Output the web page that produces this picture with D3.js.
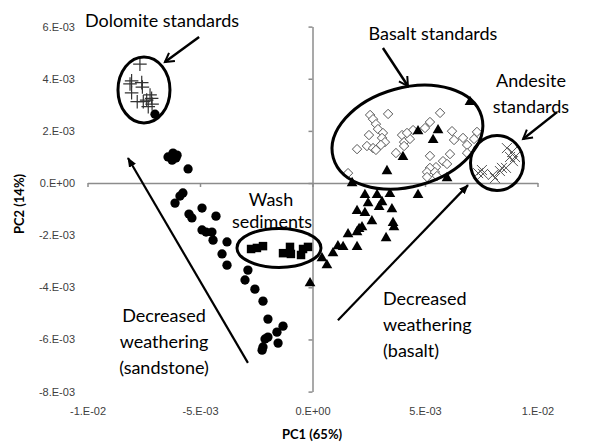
<!DOCTYPE html>
<html>
<head>
<meta charset="utf-8">
<script src="https://cdn.jsdelivr.net/npm/d3@7"></script>
<style>
  body { margin: 0; background: #fff; }
  svg { font-family: Lato, "Open Sans", sans-serif; }
  .tick text { fill: #404040; font-size: 11px; }
  .axis path, .axis line { stroke: #8c8c8c; stroke-width: 1.5; }
  .note { font-size: 18px; fill: #000; }
</style>
</head>
<body>
<svg id="chart" width="599" height="444"></svg>
<script>
// PCA scores, all values in units of 1e-3
var dolomite = [[-7.67,4.56],[-8.04,3.92],[-8.11,3.80],[-7.59,3.85],[-7.56,3.68],[-8.04,3.46],
  [-7.79,3.12],[-7.52,3.12],[-7.37,3.18],[-7.22,3.38],[-7.15,3.25],[-7.30,2.93],[-7.13,3.03]];

var sandstone = [[-7.0,2.64],[-6.42,1.00],[-6.20,1.15],[-6.02,1.07],[-6.24,0.88],[-6.07,0.96],[-5.53,0.54],
  [-5.76,-0.38],[-5.89,-0.50],[-6.11,-0.77],[-5.49,-1.19],[-5.36,-1.34],[-4.91,-0.96],[-4.29,-1.27],
  [-4.91,-1.80],[-4.73,-1.88],[-4.47,-1.88],[-4.42,-2.19],[-3.80,-2.26],[-4.02,-2.72],[-3.80,-3.15],
  [-2.87,-3.34],[-3.00,-3.72],[-2.56,-4.07],[-2.20,-4.53],[-1.98,-5.22],[-1.31,-5.49],[-1.58,-5.72],
  [-1.98,-5.91],[-2.11,-5.98],[-1.53,-6.14],[-2.20,-6.29],[-2.24,-6.41]];

var wash = [[-2.73,-2.53],[-2.47,-2.49],[-2.20,-2.42],[-1.31,-2.69],[-1.00,-2.45],[-0.96,-2.72],
  [-0.51,-2.76],[-0.42,-2.53],[-0.20,-2.45]];

var basaltTrend = [[3.31,0.46],[1.76,0.00],[2.33,-0.46],[2.87,-0.46],[3.44,-0.42],[4.69,-0.46],
  [2.47,-0.77],[3.09,-0.73],[2.96,-0.92],[3.53,-1.00],[1.98,-1.07],[2.33,-1.15],[2.64,-1.46],
  [3.58,-1.53],[3.62,-1.69],[2.20,-1.69],[2.07,-1.76],[1.98,-1.88],[1.58,-1.96],[3.27,-2.11],
  [1.13,-2.42],[1.36,-2.45],[1.98,-2.45],[0.91,-2.69],[0.42,-2.88],[0.64,-3.15],[-0.11,-3.84],
  [4.69,1.99],[5.58,2.03],[5.36,1.65],[4.02,1.00],[5.98,0.19],[7.00,3.11]];

var basaltStd = [[2.56,2.61],[2.69,2.45],[3.36,2.65],[5.67,2.69],[2.82,2.26],[2.91,2.07],[3.13,1.92],
  [2.51,1.84],[3.09,1.73],[3.22,1.57],[3.04,1.46],[2.42,1.42],[2.69,1.34],[2.82,1.27],[1.98,1.30],
  [3.98,1.84],[4.07,1.57],[4.33,1.69],[4.07,1.42],[4.47,2.03],[5.00,2.11],[5.22,2.34],[3.71,1.15],
  [5.22,1.04],[6.20,1.99],[6.29,1.65],[6.69,1.73],[6.87,1.46],[6.87,1.15],[7.31,1.96],[7.18,1.69],
  [6.11,1.11],[5.80,0.84],[5.98,0.73],[5.49,0.61],[5.22,0.58],[5.09,0.42],[5.44,0.42],[5.09,0.23],
  [5.53,0.27],[1.58,0.38],[4.20,1.92]];

var andesite = [[8.64,1.34],[8.87,1.19],[8.78,1.00],[9.00,1.00],[8.91,0.84],[8.42,0.58],[8.60,0.58],
  [8.33,0.46],[7.53,0.50],[7.58,0.35],[7.36,0.38],[8.02,0.31],[8.11,0.19]];

var xTicks = [-10, -5, 0, 5, 10];
var yTicks = [-8, -6, -4, -2, 0, 2, 4, 6];

var svg = d3.select('#chart');

var x = d3.scaleLinear().domain([-10, 10]).range([87.5, 537.5]);
var y = d3.scaleLinear().domain([-8, 6]).range([391.6, 26.6]);

// excel style labels like 5.E-03
function sci(v) {
  var val = v * 1e-3;
  if (val === 0) return '0.E+00';
  var e = Math.floor(Math.log10(Math.abs(val)) + 1e-9);
  var m = Math.round(val / Math.pow(10, e));
  var ae = Math.abs(e);
  return m + '.E' + (e < 0 ? '-' : '+') + (ae < 10 ? '0' : '') + ae;
}

// axis lines crossing at zero, labels kept at the low side
svg.append('g').attr('class', 'axis')
  .attr('transform', 'translate(0,' + y(0) + ')')
  .call(d3.axisBottom(x).tickValues(xTicks).tickSize(4).tickSizeOuter(0).tickFormat(''));
svg.append('g').attr('class', 'axis')
  .attr('transform', 'translate(' + x(0) + ',0)')
  .call(d3.axisLeft(y).tickValues(yTicks).tickSize(4).tickSizeOuter(0).tickFormat(''));

svg.append('g')
  .attr('transform', 'translate(0,404)')
  .call(d3.axisBottom(x).tickValues(xTicks).tickSize(0).tickFormat(sci))
  .call(g => g.select('.domain').remove());
svg.append('g')
  .attr('transform', 'translate(75,0)')
  .call(d3.axisLeft(y).tickValues(yTicks).tickSize(0).tickPadding(0).tickFormat(sci))
  .call(g => g.select('.domain').remove());

svg.append('text').attr('x', 312).attr('y', 439).attr('text-anchor', 'middle')
  .attr('font-size', 13).attr('font-weight', 'bold').text('PC1 (65%)');
svg.append('text').attr('transform', 'translate(24,204) rotate(-90)').attr('text-anchor', 'middle')
  .attr('font-size', 13).attr('font-weight', 'bold').text('PC2 (14%)');

// markers
function drawSeries(data, type, size, fill, stroke, sw) {
  svg.append('g').selectAll('path').data(data).join('path')
    .attr('transform', d => 'translate(' + x(d[0]) + ',' + y(d[1]) + ')')
    .attr('d', d3.symbol().type(type).size(size))
    .attr('fill', fill).attr('stroke', stroke).attr('stroke-width', sw);
}
drawSeries(basaltStd, d3.symbolDiamond2, 56, '#fff', '#555', 1);
drawSeries(andesite, d3.symbolTimes, 67, 'none', '#555', 1);
drawSeries(dolomite, d3.symbolPlus, 62, 'none', '#333', 1.2);
drawSeries(sandstone, d3.symbolCircle, 68, '#000', 'none', 0);
drawSeries(wash, d3.symbolSquare, 72, '#000', 'none', 0);
drawSeries(basaltTrend, d3.symbolTriangle, 50, '#000', 'none', 0);

// circled groups
var ov = svg.append('g').attr('fill', 'none').attr('stroke', '#000').attr('stroke-width', 3);
ov.append('ellipse').attr('cx', x(-7.49)).attr('cy', y(3.57)).attr('rx', 26).attr('ry', 33);
ov.append('ellipse').attr('cx', x(-1.49)).attr('cy', y(-2.49)).attr('rx', 42).attr('ry', 19.5);
ov.append('ellipse').attr('transform', 'translate(' + x(4.22) + ',' + y(1.76) + ') rotate(-15.6)')
  .attr('rx', 77).attr('ry', 49.5);
ov.append('ellipse').attr('cx', x(8.2)).attr('cy', y(0.77)).attr('rx', 26.5).attr('ry', 27.5);

// arrows
svg.append('defs').call(function(d) {
  d.append('marker').attr('id', 'open').attr('viewBox', '0 0 10 10')
    .attr('refX', 8).attr('refY', 5).attr('markerWidth', 5).attr('markerHeight', 5)
    .attr('orient', 'auto').attr('markerUnits', 'strokeWidth')
    .append('path').attr('d', 'M1,1 L8,5 L1,9').attr('fill', 'none').attr('stroke', '#000').attr('stroke-width', 1.6);
  d.append('marker').attr('id', 'solid').attr('viewBox', '0 0 10 10')
    .attr('refX', 9).attr('refY', 5).attr('markerWidth', 4.5).attr('markerHeight', 4.5)
    .attr('orient', 'auto').attr('markerUnits', 'strokeWidth')
    .append('path').attr('d', 'M0,1 L10,5 L0,9 Z').attr('fill', '#000');
});

function arrow(a, b, kind, w) {
  svg.append('line').attr('x1', x(a[0])).attr('y1', y(a[1])).attr('x2', x(b[0])).attr('y2', y(b[1]))
    .attr('stroke', '#000').attr('stroke-width', w).attr('marker-end', 'url(#' + kind + ')');
}
arrow([-5.04, 5.60], [-6.56, 4.64], 'open', 2.5);
arrow([3.13, 5.18], [4.24, 3.72], 'open', 2.5);
arrow([10.87, 2.72], [9.36, 1.69], 'open', 2.5);
arrow([-2.87, -6.90], [-8.2, 0.96], 'solid', 2.2);
arrow([1.13, -5.26], [6.91, -0.08], 'solid', 2.2);

// labels
function note(px, py, lines, anchor) {
  var t = svg.append('text').attr('class', 'note').attr('text-anchor', anchor || 'middle');
  lines.forEach(function(s, i) {
    t.append('tspan').attr('x', px).attr('y', py + i * 26).text(s);
  });
}
note(162, 27, ['Dolomite standards']);
note(433, 40, ['Basalt standards']);
note(531, 87, ['Andesite', 'standards']);
note(271, 206, ['Wash']);
note(272, 228, ['sediments']);
note(164, 322, ['Decreased', 'weathering', '(sandstone)']);
note(383, 305, ['Decreased', 'weathering', '(basalt)'], 'start');
</script>
</body>
</html>
